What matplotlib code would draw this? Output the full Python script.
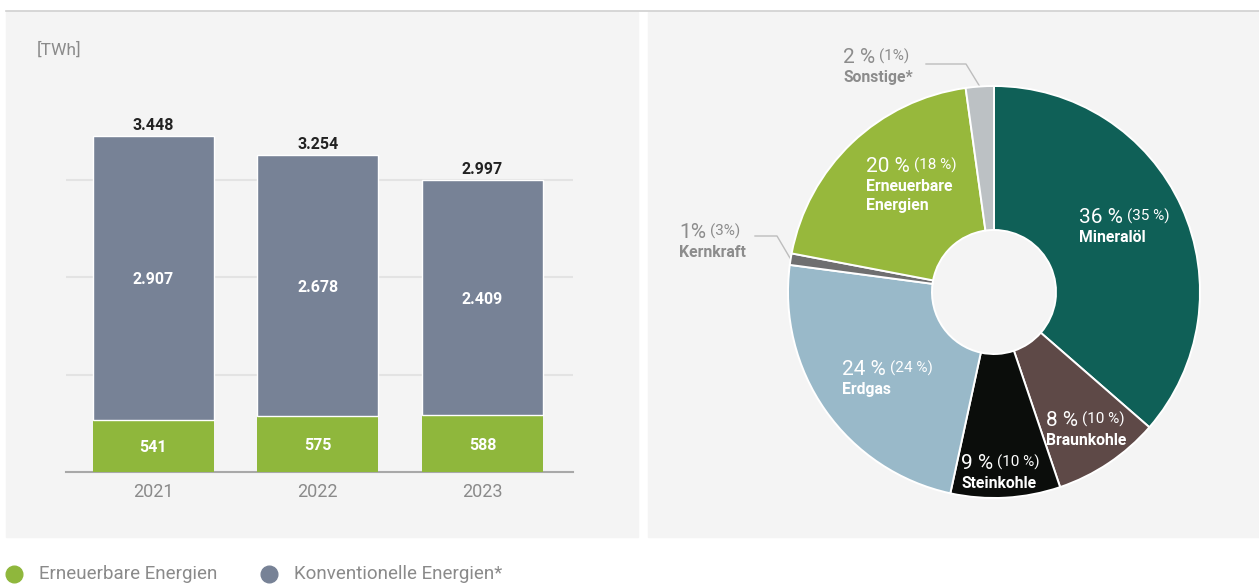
import numpy as np
import matplotlib.pyplot as plt
from matplotlib.patches import Rectangle
from matplotlib.lines import Line2D

plt.rcParams['font.family'] = ['Roboto', 'DejaVu Sans']

# bar chart data [TWh]
years = ['2021', '2022', '2023']
renewable = [541, 575, 588]
conventional = [2907, 2678, 2409]
totals = [3448, 3254, 2997]

# pie data: share 2023 (%) and previous year (in brackets)
pie_names = ['Mineralöl', 'Braunkohle', 'Steinkohle', 'Erdgas', 'Kernkraft',
             'Erneuerbare\nEnergien', 'Sonstige*']
share_now = [36.4, 8.4, 8.6, 23.7, 0.9, 19.8, 2.2]
share_prev = [35, 10, 10, 24, 3, 18, 1]
pie_colors = ['#0f6057', '#5e4947', '#0b0d0b', '#99b9c9', '#6f6f70', '#97b83c', '#bcc1c4']

GREEN = '#8fb73c'
GREY = '#778296'
PANEL = '#f4f4f4'
W, H = 1259, 586


def fx(px):
    return px / W


def fy(py):
    return 1 - py / H


fig = plt.figure(figsize=(W / 100, H / 100), dpi=100)
fig.patch.set_facecolor('white')

# panels + top rule
fig.add_artist(Line2D([fx(6), 1], [fy(11), fy(11)], color='#cfcfcf', lw=1.2))
fig.patches.append(Rectangle((fx(6), fy(537)), fx(638) - fx(6), fy(12) - fy(537),
                             transform=fig.transFigure, color=PANEL, zorder=-5))
fig.patches.append(Rectangle((fx(648), fy(537)), 1 - fx(648), fy(12) - fy(537),
                             transform=fig.transFigure, color=PANEL, zorder=-5))

# ---- stacked bars ----
scale = 0.0975  # px per TWh
ymax = 3600
ax = fig.add_axes([fx(66), fy(472.3), fx(573) - fx(66), ymax * scale / H])
ax.set_facecolor('none')
x = np.arange(len(years))
ax.bar(x, renewable, width=0.736, color=GREEN, zorder=3)
ax.bar(x, conventional, bottom=renewable, width=0.736, color=GREY,
       edgecolor='white', linewidth=1, zorder=3)
for i in range(len(years)):
    ax.text(x[i], renewable[i] / 2, f"{renewable[i]}", ha='center', va='center_baseline',
            color='white', fontsize=11.5, fontweight='bold', zorder=4)
    ax.text(x[i], renewable[i] + conventional[i] / 2, f"{conventional[i]:,}".replace(',', '.'),
            ha='center', va='center_baseline', color='white', fontsize=11.5,
            fontweight='bold', zorder=4)
    ax.annotate(f"{totals[i]:,}".replace(',', '.'), (x[i], renewable[i] + conventional[i]),
                xytext=(0, 2), textcoords='offset points', ha='center', va='bottom',
                color='#222222', fontsize=11.5, fontweight='bold')
ax.set_xlim(-0.53, 2.55)
ax.set_ylim(0, ymax)
ax.set_yticks([1000, 2000, 3000])
ax.yaxis.grid(True, color='#e3e3e3', lw=1.5, zorder=0)
ax.tick_params(axis='y', left=False, labelleft=False)
ax.set_xticks(x, years)
ax.tick_params(axis='x', length=0, pad=8, labelsize=13, labelcolor='#8a8a8a')
for s in ['top', 'right', 'left']:
    ax.spines[s].set_visible(False)
ax.spines['bottom'].set_color('#a8a8a8')
ax.spines['bottom'].set_linewidth(1.5)
fig.text(fx(37), fy(50), '[TWh]', fontsize=12.5, color='#8a8a8a', va='center')

# ---- donut ----
R = 206
cx, cy = 994, 292
L = 1.12
pax = fig.add_axes([fx(cx - L * R), fy(cy + L * R), 2 * L * R / W, 2 * L * R / H])
pax.pie(share_now, colors=pie_colors, startangle=90, counterclock=False, radius=1,
        wedgeprops=dict(width=1 - 62 / R, edgecolor='white', linewidth=1.4))
pax.set_xlim(-L, L)
pax.set_ylim(-L, L)
pax.set_aspect('auto')
pax.axis('off')


def d(px, py):
    return ((px - cx) / R, (cy - py) / R)


# label anchor (left x, baseline y of first line) in pixel layout
label_pos = [(1079, 223), (1046, 426), (961, 469), (842, 375), (679, 238), (866, 172), (843, 63)]
outside = [False, False, False, False, True, False, True]

for i, name in enumerate(pie_names):
    col = '#8c8c8c' if outside[i] else 'white'
    px, py = label_pos[i]
    now = round(share_now[i])
    sep = '' if now == 1 else ' '
    sep2 = '' if share_prev[i] in (1, 3) else ' '
    t1 = pax.text(*d(px, py), f"{now}{sep}%", color=col, fontsize=15,
                  ha='left', va='baseline')
    pax.annotate(f"({share_prev[i]}{sep2}%)", xy=(1, 0), xycoords=t1, xytext=(3, 2.5),
                 textcoords='offset points', color=col, fontsize=11, ha='left', va='bottom')
    for k, line in enumerate(name.split('\n')):
        pax.text(*d(px, py + 19 * (k + 1)), line, color=col, fontsize=11.3,
                 fontweight='bold', ha='left', va='baseline')

# leader lines for small slices
cum = np.cumsum([0] + share_now[:-1])
leaders = {4: ((755, 236), (777, 236)), 6: ((926, 64), (966, 64))}
for i, (p0, p1) in leaders.items():
    ang = np.deg2rad(90 - 360 * (cum[i] + share_now[i] / 2) / 100)
    ex, ey = np.cos(ang) * 1.0, np.sin(ang) * 1.0
    xs = [d(*p0)[0], d(*p1)[0], ex]
    ys = [d(*p0)[1], d(*p1)[1], ey]
    pax.plot(xs, ys, color='#bdbdbd', lw=1, zorder=0, clip_on=False)

# ---- legend ----
for cxl, txt, c in [(14, 'Erneuerbare Energien', GREEN), (269, 'Konventionelle Energien*', GREY)]:
    fig.add_artist(Line2D([fx(cxl)], [fy(574)], marker='o', markersize=12,
                          color=c, linestyle='none'))
    fig.text(fx(cxl + 25), fy(574), txt, fontsize=13.5, color='#8a8a8a', va='center')

fig.savefig('out.png', dpi=100, facecolor='white')
